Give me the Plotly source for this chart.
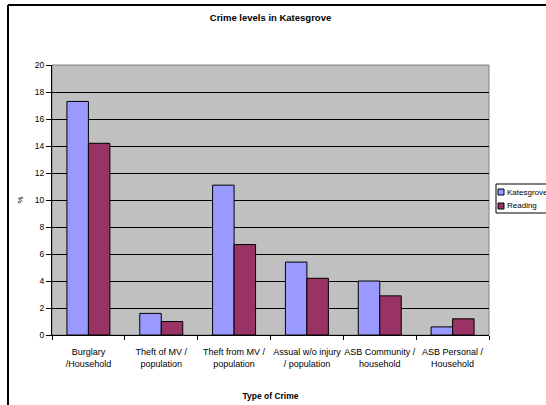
import plotly.graph_objects as go

categories = [
    "Burglary<br>/Household",
    "Theft of MV /<br>population",
    "Theft from MV /<br>population",
    "Assual w/o injury<br>/ population",
    "ASB Community /<br>household",
    "ASB Personal /<br>Household",
]
katesgrove = [17.3, 1.6, 11.1, 5.4, 4.0, 0.6]
reading = [14.2, 1.0, 6.7, 4.2, 2.9, 1.2]
y_ticks = list(range(0, 21, 2))

series = [("Katesgrove", katesgrove, "#9999ff"), ("Reading", reading, "#993366")]

FONT = "Liberation Sans"
W, H = 546, 405
L, R, T, B = 52, 57, 65, 70
PW, PH = W - L - R, H - T - B


def px(x):
    return (x - L) / PW


def py(y):
    return (H - B - y) / PH


fig = go.Figure()
for name, vals, col in series:
    fig.add_trace(go.Bar(
        name=name, x=categories, y=vals, showlegend=False,
        marker=dict(color=col, line=dict(color="black", width=1)),
    ))

shapes = [
    # grey frame around the plotting area
    dict(type="rect", xref="paper", yref="paper", x0=0, y0=0, x1=1, y1=1,
         line=dict(color="#808080", width=1), layer="below"),
    # outer chart border (top and left edges visible)
    dict(type="line", xref="paper", yref="paper",
         x0=px(8), y0=py(5), x1=px(560), y1=py(5),
         line=dict(color="black", width=2)),
    dict(type="line", xref="paper", yref="paper",
         x0=px(8), y0=py(5), x1=px(8), y1=py(420),
         line=dict(color="black", width=2)),
    # legend box
    dict(type="rect", xref="paper", yref="paper",
         x0=px(496), y0=py(184), x1=px(570), y1=py(213),
         line=dict(color="black", width=1), fillcolor="white"),
]
annotations = []
for i, (name, vals, col) in enumerate(series):
    yc = 192 + 14 * i
    shapes.append(dict(type="rect", xref="paper", yref="paper",
                       x0=px(498), y0=py(yc - 3), x1=px(504), y1=py(yc + 3),
                       line=dict(color="black", width=1), fillcolor=col))
    annotations.append(dict(xref="paper", yref="paper", x=px(505), y=py(yc),
                            xanchor="left", yanchor="middle", showarrow=False,
                            text=name, font=dict(size=8)))

fig.update_layout(
    width=W, height=H,
    margin=dict(l=L, r=R, t=T, b=B, autoexpand=False),
    paper_bgcolor="white",
    plot_bgcolor="#c0c0c0",
    barmode="group",
    bargap=0.41,
    bargroupgap=0,
    font=dict(family=FONT, size=8, color="black"),
    title=dict(
        text="<b>Crime levels in Katesgrove</b>",
        x=0.5, xref="paper", xanchor="center",
        y=1 - 18 / H, yanchor="middle",
        font=dict(family=FONT, size=9.5, color="black"),
    ),
    xaxis=dict(
        title=dict(text="<b>Type of Crime</b>", font=dict(size=8.5), standoff=25),
        showgrid=False,
        showline=True, linecolor="black", linewidth=1,
        ticks="outside", tickson="boundaries", ticklen=4, tickcolor="black",
        tickangle=0,
        ticklabelstandoff=8,
        tickfont=dict(size=9),
    ),
    yaxis=dict(
        title=dict(text="%", font=dict(size=8), standoff=10),
        range=[0, 20],
        tickvals=y_ticks,
        showgrid=True, gridcolor="black", gridwidth=1,
        showline=True, linecolor="black", linewidth=1,
        ticks="outside", ticklen=5, tickcolor="black",
        tickfont=dict(size=8.5),
        zeroline=False,
    ),
    shapes=shapes,
    annotations=annotations,
)

fig.write_html("out.html")
